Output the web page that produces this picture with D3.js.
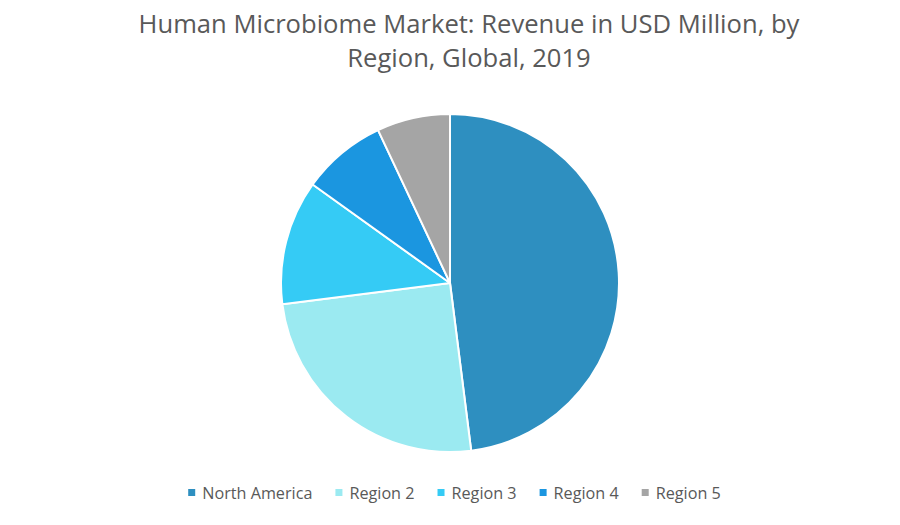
<!DOCTYPE html>
<html><head><meta charset="utf-8">
<script src="https://cdn.jsdelivr.net/npm/d3@7"></script>
<style>body{margin:0;background:#fff;} svg{display:block;}</style>
</head><body>
<svg id="chart" width="900" height="525"></svg>
<script>
const titleLines = ["Human Microbiome Market: Revenue in USD Million, by", "Region, Global, 2019"];
const categories = ["North America", "Region 2", "Region 3", "Region 4", "Region 5"];
const values = [48.0, 25.0, 11.9, 8.1, 7.0];
const colors = ["#2E8FC0", "#9BEAF1", "#35CBF5", "#1B96E0", "#A5A5A5"];

const svg = d3.select("#chart");
const font = "'Open Sans', sans-serif";

svg.append("g").selectAll("text").data(titleLines).join("text")
  .attr("x", 469).attr("y", (d, i) => 33 + i * 34)
  .attr("text-anchor", "middle")
  .style("font-family", font).style("font-size", "25.6px").style("fill", "#595959")
  .text(d => d);

const cx = 450, cy = 283, r = 169;
const pie = d3.pie().sort(null).value(d => d.v);
const arc = d3.arc().innerRadius(0).outerRadius(r);
const data = categories.map((c, i) => ({c, v: values[i], col: colors[i]}));
svg.append("g").attr("transform", `translate(${cx},${cy})`)
  .selectAll("path").data(pie(data)).join("path")
  .attr("d", arc).attr("fill", d => d.data.col)
  .attr("stroke", "#fff").attr("stroke-width", 2).attr("stroke-linejoin", "round");

const color = d3.scaleOrdinal().domain(categories).range(colors);
const lg = svg.append("g");
const items = lg.selectAll("g").data(categories).join("g");
items.append("rect").attr("width", 7).attr("height", 7).attr("y", -10).attr("fill", d => color(d));
items.append("text").attr("x", 14).attr("y", 0)
  .style("font-family", font).style("font-size", "16.2px").style("fill", "#595959").text(d => d);
const gap = 23;
const widths = [];
items.each(function() { widths.push(this.getBBox().width); });
const total = d3.sum(widths) + gap * (widths.length - 1);
let x = 454.5 - total / 2;
items.each(function(d, i) {
  d3.select(this).attr("transform", `translate(${x},499)`);
  x += widths[i] + gap;
});
</script>
</body></html>
